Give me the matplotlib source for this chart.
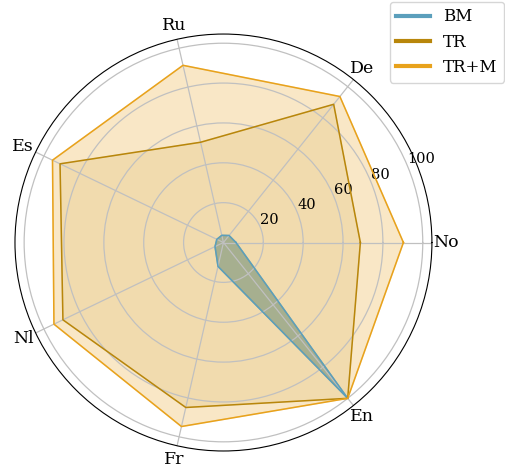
import matplotlib.pyplot as plt
import numpy as np
from matplotlib.lines import Line2D

plt.rcParams['font.family'] = ['DejaVu Serif']

languages = ["No", "De", "Ru", "Es", "Nl", "Fr", "En"]
bm = [6.3, 4.5, 3.7, 3.7, 4.7, 12.3, 100]
tr = [68.7, 88.7, 51.6, 91.0, 89.4, 84.9, 100]
trm = [90.3, 93.7, 91.2, 95.2, 94.4, 94.7, 100]

series = [("BM", bm, "#5b9fbc", 0.7), ("TR", tr, "#b8860b", 0.13), ("TR+M", trm, "#e8a21c", 0.25)]

angles = np.linspace(0, 2 * np.pi, len(languages), endpoint=False)
closed = np.concatenate([angles, angles[:1]])

fig = plt.figure(figsize=(5.06, 4.68), dpi=100)
ax = fig.add_axes([0.0296, 0.0363, 0.824, 0.891], polar=True)

for name, vals, col, a in series:
    v = np.concatenate([vals, vals[:1]])
    ax.plot(closed, v, color=col, linewidth=1.1)
    ax.fill(closed, v, color=col, alpha=a)

ax.set_xticks(angles)
ax.set_xticklabels(languages, fontsize=12.5)
ax.set_ylim(0, 104.6)
ax.set_yticks([20, 40, 60, 80, 100])
ax.set_yticklabels(["20", "40", "60", "80", "100"], fontsize=10.5)
ax.set_rlabel_position(22.5)
ax.tick_params(axis='x', pad=-0.5)
ax.grid(color="#c0c0c0", linewidth=0.9)

handles = [Line2D([0], [0], color=s[2], linewidth=3) for s in series]
fig.legend(handles, [s[0] for s in series], loc="upper right",
           bbox_to_anchor=(1.0, 1.0), borderaxespad=0.1, fontsize=12)

fig.savefig("out.png", dpi=100)
